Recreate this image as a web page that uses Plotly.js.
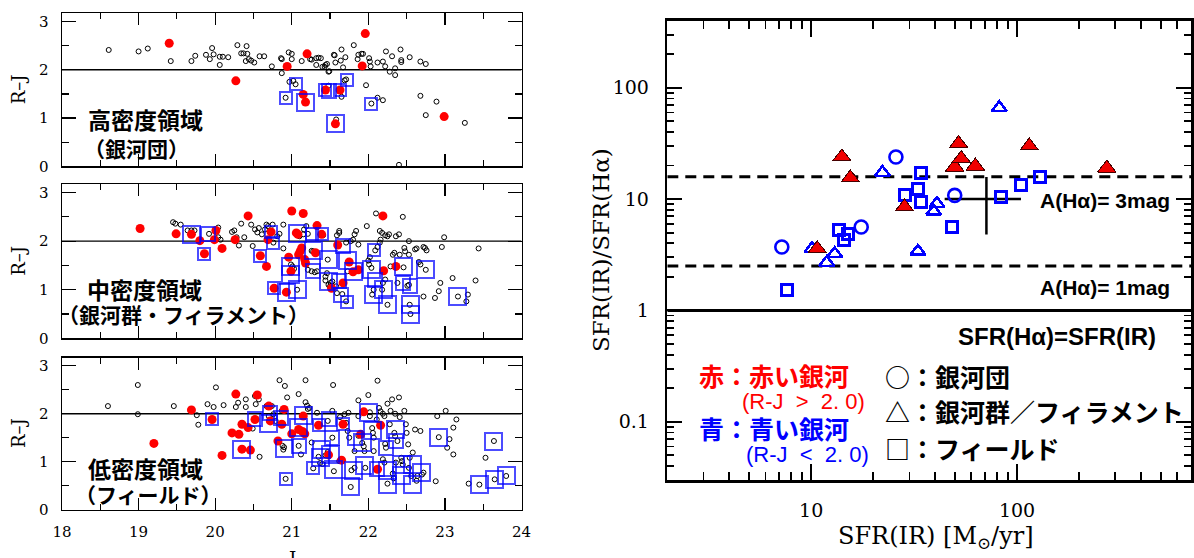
<!DOCTYPE html>
<html><head><meta charset="utf-8">
<script src="https://cdn.plot.ly/plotly-3.0.1.min.js"></script>
<style>html,body{margin:0;padding:0;background:#fff}#plot{width:1194px;height:558px}
path.point[d*="H"]{shape-rendering:crispEdges}</style>
</head><body><div id="plot"></div>
<script>
// ---------------- DATA ----------------
// Left panels: J magnitude vs R-J colour
// Panel 1: high density (clusters)
const p1BlackJ  = [18.61,19.00,19.12,19.42,19.69,19.74,19.88,19.93,19.96,19.98,20.06,20.06,20.10,20.17,20.29,20.34,20.37,20.40,20.41,20.42,20.44,20.47,20.51,20.58,20.64,20.74,20.86,20.87,20.87,20.96,20.97,21.00,21.00,21.02,21.05,21.13,21.24,21.26,21.32,21.35,21.38,21.32,21.40,21.43,21.44,21.46,21.48,21.49,21.48,21.55,21.56,21.57,21.58,21.65,21.64,21.65,21.67,21.69,21.71,21.70,21.81,21.87,21.86,21.91,21.93,21.97,22.01,22.02,22.03,22.04,22.12,22.12,22.19,22.19,22.23,22.22,22.28,22.31,22.35,22.35,22.40,22.42,22.43,22.43,22.54,22.68,22.75,22.68,22.75,22.89,23.26,20.92];
const p1BlackRJ = [2.41,2.38,2.44,2.18,2.18,2.29,2.31,2.22,2.45,2.32,2.10,2.27,2.27,2.26,2.51,2.34,2.34,2.18,2.49,2.33,2.22,2.19,2.15,2.28,2.28,2.07,2.24,2.22,1.93,2.36,1.75,2.33,2.22,1.77,1.70,2.18,2.22,2.21,2.24,2.25,2.24,2.10,2.06,2.06,2.10,2.12,1.96,1.97,1.67,2.31,2.30,2.15,0.97,2.42,2.19,1.44,2.05,1.78,1.80,2.26,2.51,2.31,2.22,2.33,2.33,1.68,2.24,2.17,2.07,1.30,1.42,2.15,1.37,2.17,2.38,2.07,1.96,2.28,2.03,1.89,0.03,2.42,2.20,2.16,2.26,2.17,2.12,1.46,1.06,1.34,0.90,1.42];
const p1RedJ  = [19.40,20.27,20.94,21.15,21.18,21.20,21.44,21.63,21.57,21.92,21.96,22.99];
const p1RedRJ = [2.55,1.77,2.07,1.49,1.33,2.33,1.58,1.58,0.88,2.08,2.75,1.03];
const p1BlueJ   = [20.92,21.05,21.18,21.44,21.48,21.63,21.72,21.57,22.04];
const p1BlueRJ  = [1.42,1.70,1.33,1.58,1.56,1.58,1.79,0.88,1.30];
const p1BlueBox = ['S','S','L','S','M','S','S','L','S'];

// Panel 2: intermediate density (groups / filaments)
const p2BlackJ  = [19.45,19.48,19.55,19.64,19.69,19.73,19.92,20.04,20.04,20.07,20.22,20.25,20.28,20.31,20.34,20.38,20.47,20.49,20.52,20.55,20.57,20.61,20.65,20.67,20.69,20.75,20.76,20.81,20.84,20.89,20.89,20.99,21.01,21.03,21.07,21.10,21.15,21.16,21.19,21.19,21.21,21.21,21.26,21.28,21.30,21.26,21.30,21.33,21.39,21.41,21.44,21.46,21.44,21.47,21.48,21.50,21.51,21.53,21.59,21.62,21.62,21.58,21.59,21.66,21.67,21.71,21.71,21.73,21.77,21.80,21.82,21.84,21.87,21.98,22.00,22.01,22.02,22.04,22.05,22.07,22.09,22.10,22.12,22.15,22.16,22.15,22.18,22.22,22.19,22.22,22.18,22.25,22.25,22.27,22.29,22.32,22.34,22.36,22.38,22.40,22.41,22.45,22.46,22.47,22.48,22.51,22.53,22.53,22.53,22.54,22.55,22.61,22.63,22.66,22.68,22.72,22.74,22.76,22.72,22.75,22.87,22.92,22.94,22.96,22.99,23.10,23.17,23.28,23.30,23.40,23.44];
const p2BlackRJ = [2.39,2.36,2.34,2.22,2.22,2.22,2.15,2.08,2.28,2.03,2.19,2.22,2.08,1.91,2.36,2.08,2.34,1.90,2.24,2.18,2.27,2.14,2.24,2.34,2.31,2.34,1.97,2.10,2.15,1.85,2.34,1.52,1.48,1.43,1.00,2.10,2.14,2.24,2.31,1.52,1.41,2.15,1.80,1.79,1.75,1.38,1.36,1.38,2.14,2.12,1.27,1.34,1.19,1.62,1.10,1.07,1.14,1.17,2.12,2.17,2.21,1.07,0.93,0.91,1.16,0.76,1.97,1.38,2.00,2.03,2.14,2.21,1.93,2.31,1.60,1.52,1.67,1.45,0.90,1.00,1.81,2.57,1.88,1.97,2.03,2.21,2.17,2.12,1.14,1.21,1.00,0.69,2.10,2.14,1.48,1.72,1.76,2.10,1.14,2.14,1.72,2.50,1.46,1.86,1.79,1.08,1.10,1.72,2.00,0.69,0.50,1.83,1.85,1.57,1.52,1.88,1.86,1.81,0.86,1.41,0.83,0.97,1.14,1.88,2.08,1.24,0.86,0.76,0.90,1.19,1.85];
const p2RedJ  = [19.02,19.49,19.69,19.80,19.86,19.99,20.01,20.09,20.26,20.43,20.59,20.67,20.69,20.73,20.77,20.93,20.96,20.99,21.00,21.06,21.08,21.09,21.11,21.13,21.15,21.17,21.18,21.31,21.33,21.39,21.52,21.60,21.67,21.75,21.80,21.87,22.19,22.20,22.36];
const p2RedRJ = [2.26,2.15,2.14,2.01,1.74,2.03,2.22,1.85,2.03,2.52,1.70,1.48,2.03,2.19,1.03,0.95,1.67,1.38,2.62,2.17,2.14,1.72,1.79,1.86,2.57,1.62,1.55,1.76,2.32,2.14,1.03,1.92,1.14,1.57,1.37,1.41,2.52,1.39,1.48];
const p2BlueJ   = [19.69,19.91,19.86,20.59,20.73,20.75,20.77,20.93,20.99,20.99,21.08,21.08,21.26,21.28,21.28,21.39,21.48,21.48,21.62,21.64,21.67,21.72,21.73,21.80,22.04,22.08,22.07,22.09,22.20,22.25,22.45,22.46,22.54,22.55,22.55,22.75,23.17];
const p2BlueRJ  = [2.14,2.15,1.74,1.70,2.19,1.97,1.03,0.95,1.48,1.31,1.00,2.15,2.14,1.81,1.38,2.14,1.62,1.17,1.17,0.90,1.90,0.74,1.60,1.37,1.41,1.81,0.90,1.21,1.00,0.69,1.14,1.48,1.07,0.70,0.50,1.41,0.86];
const p2BlueBox = ['L','M','S','S','S','S','S','L','L','L','L','L','S','L','M','S','L','L','M','M','M','S','L','L','L','S','L','M','L','L','M','L','M','L','L','L','L'];

// Panel 3: low density (field)
const p3BlackJ  = [18.60,18.99,18.99,19.46,19.76,19.78,19.90,19.98,20.01,20.11,20.27,20.30,20.40,20.40,20.49,20.52,20.53,20.57,20.58,20.67,20.70,20.74,20.76,20.79,20.84,20.87,20.91,20.90,20.89,20.88,20.94,20.92,21.09,21.09,21.18,21.18,21.20,21.21,21.23,21.12,21.28,21.26,21.33,21.35,21.37,21.40,21.44,21.47,21.47,21.53,21.54,21.53,21.55,21.62,21.63,21.69,21.71,21.74,21.73,21.75,21.77,21.78,21.82,21.82,21.87,21.87,21.87,21.92,21.94,21.95,21.96,22.00,22.02,22.02,22.05,22.06,22.07,22.07,22.11,22.12,22.14,22.16,22.19,22.21,22.19,22.21,22.22,22.23,22.25,22.25,22.28,22.29,22.31,22.32,22.33,22.34,22.35,22.35,22.36,22.38,22.40,22.41,22.43,22.44,22.45,22.47,22.49,22.50,22.52,22.53,22.54,22.56,22.58,22.61,22.63,22.64,22.68,22.70,22.72,22.88,22.90,22.92,23.01,23.03,23.06,23.11,23.11,23.15,23.31,23.45,23.53,23.64,23.65,23.80];
const p3BlackRJ = [2.16,2.60,1.99,2.16,1.97,1.77,2.20,2.14,2.55,2.18,2.14,2.23,2.30,2.14,1.69,2.37,2.20,2.30,1.10,2.16,1.95,2.16,1.99,1.85,2.70,2.06,2.58,1.30,1.25,1.33,2.34,0.64,2.41,1.33,2.70,2.24,2.17,2.10,2.12,1.15,0.86,1.40,2.02,1.10,0.97,0.95,1.13,1.85,1.20,1.50,2.60,2.06,0.80,1.01,1.93,1.99,1.81,2.02,1.64,1.50,0.47,0.82,1.22,0.87,1.54,1.95,2.28,1.39,1.32,1.22,0.87,2.39,2.03,1.95,1.70,1.60,1.50,1.22,1.88,2.69,2.12,2.05,2.00,1.95,1.05,0.98,1.37,1.29,0.54,2.21,1.78,2.06,2.30,0.75,0.65,1.60,1.53,2.00,0.98,1.43,2.34,1.93,1.08,1.01,0.94,2.06,1.78,1.60,1.36,0.87,1.08,0.70,1.19,1.67,0.60,0.70,1.64,0.73,0.77,0.59,1.95,1.51,2.06,1.29,1.47,1.71,1.15,1.88,0.54,0.52,1.08,1.43,0.63,0.70];
const p3RedJ  = [19.20,19.69,19.96,20.09,20.22,20.27,20.31,20.35,20.35,20.43,20.46,20.52,20.55,20.70,20.72,20.82,20.87,20.90,21.00,21.09,21.14,21.17,21.15,21.35,21.48,21.65,21.67,21.90,21.94,22.12,22.16];
const p3RedRJ = [1.38,2.08,1.88,1.13,1.60,2.41,1.57,1.78,1.26,1.71,1.24,1.88,2.39,2.16,1.85,1.43,1.78,2.09,1.58,1.67,1.63,1.58,1.95,1.76,1.14,1.03,1.78,1.57,2.04,0.84,1.76];
const p3BlueJ   = [19.96,20.34,20.52,20.71,20.70,20.86,20.90,20.92,21.09,21.09,21.15,21.35,21.39,21.37,21.48,21.50,21.53,21.28,21.55,21.67,21.77,21.80,21.82,21.93,21.95,22.00,22.05,22.11,22.23,22.25,22.25,22.36,22.36,22.43,22.43,22.58,22.58,22.70,22.92,23.45,23.64,23.65,23.80];
const p3BlueRJ  = [1.88,1.26,1.88,2.02,1.79,1.92,1.28,0.64,1.33,1.71,1.97,1.76,1.26,1.08,1.90,1.15,1.50,0.86,0.84,1.78,0.47,0.82,1.50,1.40,0.91,2.02,1.65,0.84,1.29,0.52,0.82,1.67,1.43,0.70,0.94,0.52,0.94,0.77,1.51,0.52,1.43,0.63,0.70];
const p3BlueBox = ['S','L','M','M','L','M','L','S','M','L','L','S','L','L','M','L','M','S','L','S','L','L','M','L','L','L','L','M','M','L','L','L','M','L','L','L','L','L','L','L','L','L','L'];

const rjThreshold = 2.0;          // R-J = 2.0 dividing line
const jRange = [18, 24];
const rjRange = [0, 3.17];

// Right panel: SFR(IR)/SFR(Halpha) vs SFR(IR)
const redTriX = [10.7,14.1,15.5,28.4,49.8,52.0,53.6,62.7,114.7,273];
const redTriY = [3.58,23.9,15.5,8.5,19.4,31.5,23.1,19.8,30.0,19.0];
const blueCircX = [7.2,17.5,25.8,49.8];
const blueCircY = [3.71,5.61,23.9,10.8];
const blueTriX = [10.1,11.9,13.0,22.2,33.0,40.8,39.4,82];
const blueTriY = [3.58,2.69,3.23,17.3,3.39,9.1,7.75,66];
const blueSqX = [7.6,13.6,15.1,14.4,28.5,33.0,34.1,34.3,48.3,83.6,104.5,129.7];
const blueSqY = [1.51,5.23,4.89,4.26,10.8,12.4,9.5,17.3,5.61,10.4,13.5,15.8];
// typical error cross
const errX = [71], errY = [10];
const errXminus = [26.5], errXplus = [33.5];
const errYminus = [5.18], errYplus = [5.8];
const extinctionMag = [3, 1];     // A(Halpha) lines
const sfrRange = [2, 700];
const ratioRange = [0.03, 400];

// ---------------- LAYOUT HELPERS ----------------
const W = 1194, H = 558;
const PX = x => x / W, PY = y => 1 - y / H;
const BLUE = 'rgb(0,0,255)', RED = 'rgb(255,0,0)';
const boxSize = {S: 12, M: 14, L: 17};

const leftDomX = [PX(62), PX(521.5)];
const leftDomY = [[PY(166.3), PY(13.3)], [PY(338.3), PY(184.3)], [PY(509.5), PY(357.7)]];

const panels = [
  [p1BlackJ, p1BlackRJ, p1RedJ, p1RedRJ, p1BlueJ, p1BlueRJ, p1BlueBox],
  [p2BlackJ, p2BlackRJ, p2RedJ, p2RedRJ, p2BlueJ, p2BlueRJ, p2BlueBox],
  [p3BlackJ, p3BlackRJ, p3RedJ, p3RedRJ, p3BlueJ, p3BlueRJ, p3BlueBox]
];

const traces = [];
const layout = {
  width: W, height: H,
  margin: {l: 0, r: 0, t: 0, b: 0},
  paper_bgcolor: '#fff', plot_bgcolor: 'rgba(0,0,0,0)',
  showlegend: false,
  font: {family: 'DejaVu Serif', color: '#000'},
  annotations: []
};

panels.forEach((p, i) => {
  const n = i + 1;
  const xa = 'x' + n, ya = 'y' + n;
  traces.push({type: 'scatter', mode: 'lines', x: jRange, y: [rjThreshold, rjThreshold],
    xaxis: xa, yaxis: ya, line: {color: '#000', width: 1.3}, hoverinfo: 'skip'});
  traces.push({type: 'scatter', mode: 'markers', x: p[0], y: p[1], xaxis: xa, yaxis: ya,
    marker: {symbol: 'circle-open', size: 5, color: '#000', line: {width: 1, color: '#000'}}});
  traces.push({type: 'scatter', mode: 'markers', x: p[2], y: p[3], xaxis: xa, yaxis: ya,
    marker: {symbol: 'circle', size: 9, color: RED, line: {width: 0}}});
  traces.push({type: 'scatter', mode: 'markers', x: p[4], y: p[5], xaxis: xa, yaxis: ya,
    marker: {symbol: 'square-open', size: p[6].map(c => boxSize[c]), color: BLUE, line: {width: 2, color: BLUE}}});

  layout['xaxis' + n] = {
    domain: leftDomX, range: jRange, anchor: ya,
    showline: true, linecolor: '#000', linewidth: 1.5, mirror: 'allticks',
    ticks: 'inside', ticklen: 12, tickwidth: 1.2, tickcolor: '#000', dtick: 1, tick0: 18,
    minor: {ticks: 'inside', ticklen: 6, tickwidth: 1.2, tickcolor: '#000', dtick: 0.5},
    showgrid: false, zeroline: false,
    showticklabels: n === 3, tickfont: {family: 'DejaVu Serif', size: 15, color: '#000'},
    ticklabelstandoff: 8
  };
  layout['yaxis' + n] = {
    domain: leftDomY[i], range: rjRange, anchor: xa,
    showline: true, linecolor: '#000', linewidth: 1.5, mirror: 'allticks',
    ticks: 'inside', ticklen: 14, tickwidth: 1.2, tickcolor: '#000', dtick: 1, tick0: 0,
    minor: {ticks: 'inside', ticklen: 7, tickwidth: 1.2, tickcolor: '#000', dtick: 0.5},
    showgrid: false, zeroline: false,
    tickfont: {family: 'DejaVu Serif', size: 15, color: '#000'},
    ticklabelstandoff: 9
  };
});

// Right panel traces
const lineVals = extinctionMag.map(a => Math.pow(10, 0.4 * a));
lineVals.forEach(v => traces.push({type: 'scatter', mode: 'lines', x: sfrRange, y: [v, v],
  xaxis: 'x4', yaxis: 'y4', line: {color: '#000', width: 3, dash: '11px,7px'}, hoverinfo: 'skip'}));
traces.push({type: 'scatter', mode: 'lines', x: sfrRange, y: [1, 1], xaxis: 'x4', yaxis: 'y4',
  line: {color: '#000', width: 3}, hoverinfo: 'skip'});
traces.push({type: 'scatter', mode: 'markers', x: errX, y: errY, xaxis: 'x4', yaxis: 'y4',
  marker: {size: 1, color: '#000'},
  error_x: {type: 'data', symmetric: false, array: errXplus, arrayminus: errXminus, color: '#000', thickness: 2.5, width: 0},
  error_y: {type: 'data', symmetric: false, array: errYplus, arrayminus: errYminus, color: '#000', thickness: 2.5, width: 0}});
traces.push({type: 'scatter', mode: 'markers', x: blueSqX, y: blueSqY, xaxis: 'x4', yaxis: 'y4',
  marker: {symbol: 'square-open', size: 11, color: BLUE, line: {width: 3, color: BLUE}}});
traces.push({type: 'scatter', mode: 'markers', x: blueCircX, y: blueCircY, xaxis: 'x4', yaxis: 'y4',
  marker: {symbol: 'circle-open', size: 13, color: BLUE, line: {width: 2.6, color: BLUE}}});
traces.push({type: 'scatter', mode: 'markers', x: blueTriX, y: blueTriY, xaxis: 'x4', yaxis: 'y4',
  marker: {symbol: 'triangle-up-open', size: 13, color: BLUE, line: {width: 2.6, color: BLUE}}});
traces.push({type: 'scatter', mode: 'markers', x: redTriX, y: redTriY, xaxis: 'x4', yaxis: 'y4',
  marker: {symbol: 'triangle-up', size: 16, color: 'rgb(240,0,0)', line: {width: 1, color: 'rgb(70,0,0)'}}});

const minorX = [], minorY = [];
[1, 10, 100].forEach(d => { for (let k = 2; k <= 9; k++) minorX.push(k * d); });
[0.01, 0.1, 1, 10, 100].forEach(d => { for (let k = 2; k <= 9; k++) minorY.push(k * d); });

layout.xaxis4 = {
  type: 'log', domain: [PX(667.3), PX(1191)], range: sfrRange.map(Math.log10), anchor: 'y4',
  showline: true, linecolor: '#000', linewidth: 2.6, mirror: 'allticks',
  tickmode: 'array', tickvals: [10, 100], ticktext: ['10', '100'],
  ticks: 'inside', ticklen: 16, tickwidth: 2, tickcolor: '#000',
  minor: {tickmode: 'array', tickvals: minorX, ticks: 'inside', ticklen: 8, tickwidth: 1.8, tickcolor: '#000'},
  showgrid: false, zeroline: false,
  tickfont: {family: 'DejaVu Serif', size: 19, color: '#000'}, ticklabelstandoff: 12
};
layout.yaxis4 = {
  type: 'log', domain: [PY(480), PY(20.7)], range: ratioRange.map(Math.log10), anchor: 'x4',
  showline: true, linecolor: '#000', linewidth: 2.6, mirror: 'allticks',
  tickmode: 'array', tickvals: [0.1, 1, 10, 100], ticktext: ['0.1', '1', '10', '100'],
  ticks: 'inside', ticklen: 15, tickwidth: 2, tickcolor: '#000',
  minor: {tickmode: 'array', tickvals: minorY, ticks: 'inside', ticklen: 7, tickwidth: 1.8, tickcolor: '#000'},
  showgrid: false, zeroline: false,
  tickfont: {family: 'DejaVu Serif', size: 19, color: '#000'}, ticklabelstandoff: 12
};

// ---------------- TEXT ----------------
const JP = 'Noto Sans CJK JP';
function ann(text, x, y, opt) {
  layout.annotations.push(Object.assign({text: text, x: PX(x), y: PY(y), xref: 'paper', yref: 'paper',
    showarrow: false, xanchor: 'center', yanchor: 'middle'}, opt));
}
// left axis titles
[89.8, 261.3, 433.6].forEach(yc => ann('R–J', 18.5, yc, {textangle: -90, font: {family: 'DejaVu Serif', size: 18, color: '#000'}}));
ann('J', 291.8, 546, {yanchor: 'top', font: {family: 'DejaVu Serif', size: 18, color: '#000'}});
// panel labels
const labBig = {family: JP, size: 23, color: '#000'};
const labSmall = {family: JP, size: 21, color: '#000'};
ann('<b>高密度領域</b>', 145.4, 119, {font: labBig});
ann('<b>（銀河団）</b>', 136, 147.5, {font: labSmall});
ann('<b>中密度領域</b>', 144, 288.5, {font: labBig});
ann('<b>（銀河群・フィラメント）</b>', 183, 314, {font: labSmall});
ann('<b>低密度領域</b>', 145.5, 468, {font: labBig});
ann('<b>（フィールド）</b>', 148, 494, {font: labSmall});
// right axis titles
ann('SFR(IR) [M<sub>⊙</sub>/yr]', 936, 537, {font: {family: 'DejaVu Serif', size: 24, color: '#000'}});
ann('SFR(IR)/SFR(Hα)', 601, 250, {textangle: -90, font: {family: 'DejaVu Serif', size: 23, color: '#000'}});
// right panel texts
const helvB = {family: 'Liberation Sans', size: 21, color: '#000'};
ann('<b>A(Hα)= 3mag</b>', 1172, 200, {xanchor: 'right', font: helvB});
ann('<b>A(Hα)= 1mag</b>', 1172, 287, {xanchor: 'right', font: helvB});
ann('<b>SFR(Hα)=SFR(IR)</b>', 1158, 336.7, {xanchor: 'right', font: {family: 'Liberation Sans', size: 24, color: '#000'}});
const legJP = size => ({family: JP, size: size, color: '#000'});
ann('<b>赤：赤い銀河</b>', 697, 374.5, {xanchor: 'left', font: Object.assign(legJP(25), {color: RED})});
ann('(R-J&nbsp; &gt; &nbsp;2. 0)', 740, 401, {xanchor: 'left', font: {family: 'Liberation Sans', size: 22, color: RED}});
ann('<b>青：青い銀河</b>', 697, 427.5, {xanchor: 'left', font: Object.assign(legJP(25), {color: BLUE})});
ann('(R-J&nbsp; &lt; &nbsp;2. 0)', 744, 454.5, {xanchor: 'left', font: {family: 'Liberation Sans', size: 22, color: BLUE}});
ann('<b>○：銀河団</b>', 883, 375.5, {xanchor: 'left', font: legJP(25)});
ann('<b>△：銀河群／フィラメント</b>', 883, 411, {xanchor: 'left', font: legJP(25)});
ann('<b>□：フィールド</b>', 883, 447.5, {xanchor: 'left', font: legJP(25)});

Plotly.newPlot('plot', traces, layout, {staticPlot: true, displayModeBar: false});
</script></body></html>
